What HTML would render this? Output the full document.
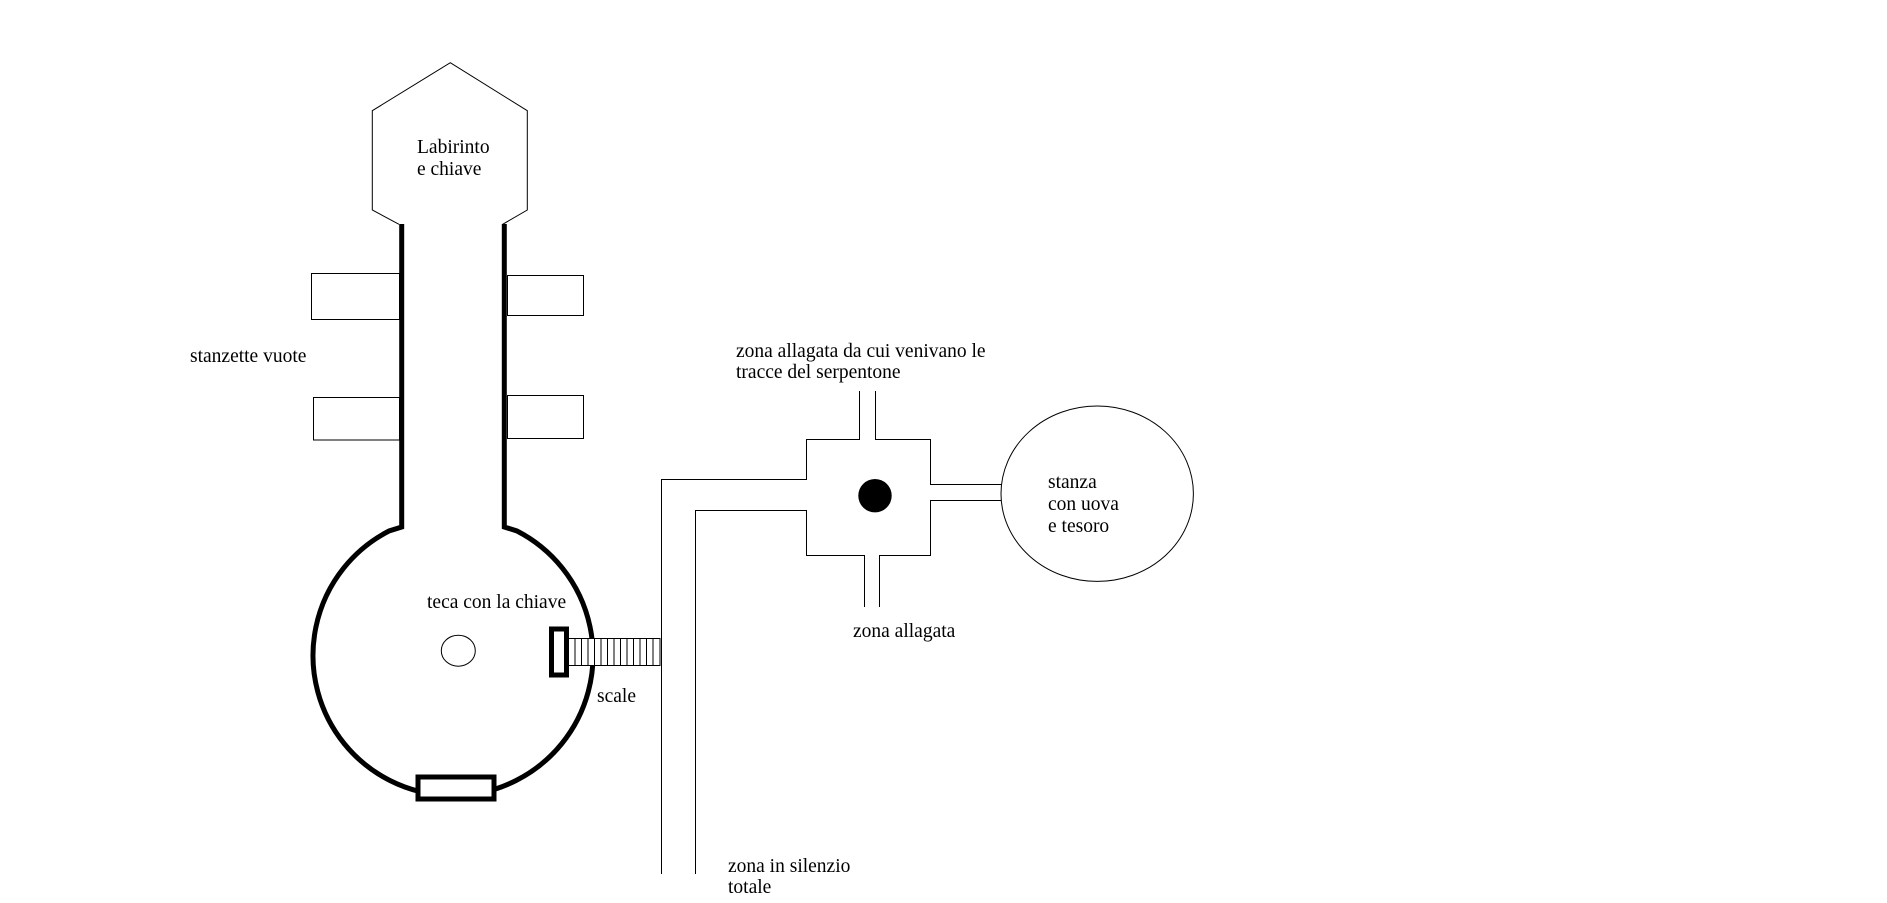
<!DOCTYPE html>
<html><head><meta charset="utf-8"><style>
html,body{margin:0;padding:0;background:#fff;}
svg{display:block;}
text{font-family:"Liberation Serif",serif;font-size:19.5px;fill:#000;}
</style></head><body>
<svg width="1887" height="903" viewBox="0 0 1887 903" xmlns="http://www.w3.org/2000/svg">
<rect width="1887" height="903" fill="#fff"/>
<!-- hexagon -->
<polyline points="399,224.3 372.3,210 372.3,110.7 450.3,62.7 527.3,110.7 527.3,210 502.7,224.3" fill="none" stroke="#000" stroke-width="1"/>
<!-- side rooms -->
<g fill="#fff" stroke="#000" stroke-width="1">
<rect x="311.5" y="273.5" width="88" height="46"/>
<rect x="313.5" y="397.5" width="86" height="42.5"/>
<rect x="507.5" y="275.5" width="76" height="40"/>
<rect x="507.5" y="395.5" width="76" height="43"/>
</g>
<!-- neck thick lines + big circle arc -->
<path d="M401.7,224 L401.7,527 L389,531 A140,140 0 1 0 517,531 L504.3,527 L504.3,224" fill="none" stroke="#000" stroke-width="5"/>
<!-- bottom rect -->
<rect x="418" y="777" width="76" height="22" fill="#fff" stroke="#000" stroke-width="5"/>
<!-- small circle -->
<ellipse cx="458.3" cy="650.7" rx="17" ry="15.5" fill="none" stroke="#000" stroke-width="1"/>
<!-- stairs -->
<rect x="568.5" y="638.5" width="91.5" height="27" fill="#fff" stroke="#000" stroke-width="1"/>
<g stroke="#000" stroke-width="1">
<line x1="575" y1="638.5" x2="575" y2="665.5"/><line x1="581.5" y1="638.5" x2="581.5" y2="665.5"/>
<line x1="588" y1="638.5" x2="588" y2="665.5"/><line x1="594.5" y1="638.5" x2="594.5" y2="665.5"/>
<line x1="601" y1="638.5" x2="601" y2="665.5"/><line x1="607.5" y1="638.5" x2="607.5" y2="665.5"/>
<line x1="614" y1="638.5" x2="614" y2="665.5"/><line x1="620.5" y1="638.5" x2="620.5" y2="665.5"/>
<line x1="627" y1="638.5" x2="627" y2="665.5"/><line x1="633.5" y1="638.5" x2="633.5" y2="665.5"/>
<line x1="640" y1="638.5" x2="640" y2="665.5"/><line x1="646.5" y1="638.5" x2="646.5" y2="665.5"/>
<line x1="653" y1="638.5" x2="653" y2="665.5"/>
</g>
<!-- teca rect -->
<rect x="551.5" y="629" width="15" height="46" fill="#fff" stroke="#000" stroke-width="5"/>
<!-- corridors -->
<g fill="none" stroke="#000" stroke-width="1">
<polyline points="661.5,874 661.5,479.5 806.5,479.5 806.5,439.5 859.5,439.5 859.5,391"/>
<polyline points="875.5,391 875.5,439.5 930.5,439.5 930.5,484.5 1001.5,484.5"/>
<polyline points="695.5,874 695.5,510.5 806.5,510.5 806.5,555.5 864.5,555.5 864.5,607"/>
<polyline points="879.5,607 879.5,555.5 930.5,555.5 930.5,500.5 1001.5,500.5"/>
<ellipse cx="1097.2" cy="493.7" rx="96.2" ry="87.7"/>
</g>
<circle cx="875" cy="495.7" r="16.7" fill="#000"/>
<!-- labels -->
<text x="417" y="153">Labirinto</text>
<text x="417" y="175">e chiave</text>
<text x="190" y="362">stanzette vuote</text>
<text x="427" y="608">teca con la chiave</text>
<text x="597" y="702">scale</text>
<text x="728" y="872">zona in silenzio</text>
<text x="728" y="893">totale</text>
<text x="736" y="357">zona allagata da cui venivano le</text>
<text x="736" y="378">tracce del serpentone</text>
<text x="1048" y="488">stanza</text>
<text x="1048" y="510">con uova</text>
<text x="1048" y="532">e tesoro</text>
<text x="853" y="637">zona allagata</text>
</svg>
</body></html>
